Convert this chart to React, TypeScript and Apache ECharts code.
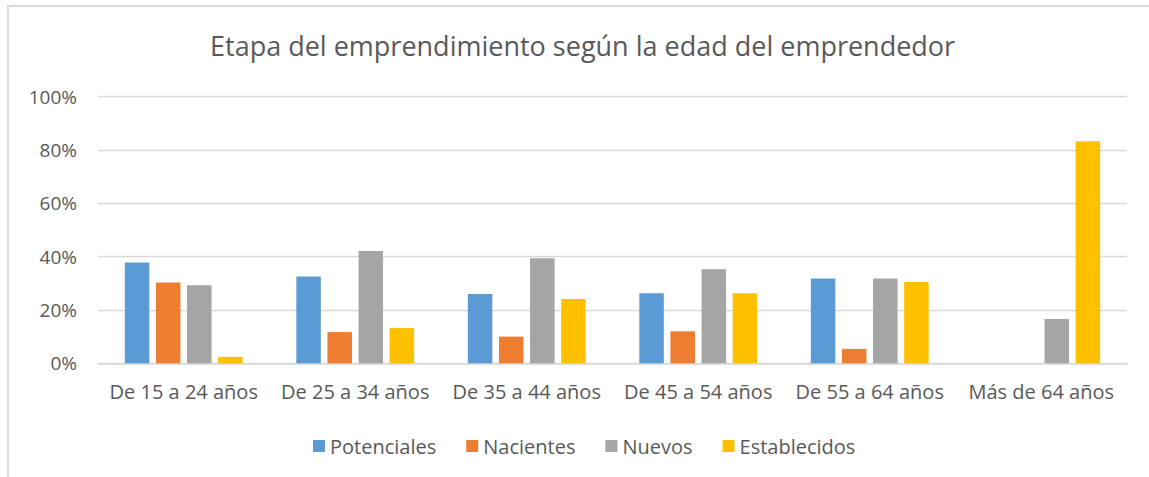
import React, { useEffect, useRef } from "react";
import * as echarts from "echarts";

const categories = [
  "De 15 a 24 años",
  "De 25 a 34 años",
  "De 35 a 44 años",
  "De 45 a 54 años",
  "De 55 a 64 años",
  "Más de 64 años",
];
const potenciales = [37.8, 32.6, 26.0, 26.3, 31.8, 0];
const nacientes = [30.3, 11.7, 10.0, 12.0, 5.4, 0];
const nuevos = [29.3, 42.1, 39.4, 35.3, 31.8, 16.6];
const establecidos = [2.4, 13.2, 24.1, 26.3, 30.5, 83.3];
const seriesNames = ["Potenciales", "Nacientes", "Nuevos", "Establecidos"];
const colors = ["#5b9bd5", "#ed7d31", "#a5a5a5", "#ffc000"];
const titleText = "Etapa del emprendimiento según la edad del emprendedor";

const FONT = "'Open Sans', sans-serif";
const TEXT = "#595959";

export default function App() {
  const ref = useRef<HTMLDivElement>(null);
  useEffect(() => {
    document.body.style.margin = "0";
    const chart = echarts.init(ref.current!, null, { renderer: "svg" });
    const values = [potenciales, nacientes, nuevos, establecidos];
    chart.setOption({
      animation: false,
      backgroundColor: "#ffffff",
      textStyle: { fontFamily: FONT },
      title: {
        text: titleText,
        left: 205,
        top: 27,
        textStyle: { fontFamily: FONT, fontSize: 27, fontWeight: "normal", color: TEXT },
      },
      graphic: [
        {
          type: "rect",
          shape: { x: 8, y: 6, width: 1200, height: 600 },
          style: { fill: "none", stroke: "#d9d9d9", lineWidth: 2 },
          silent: true,
        },
      ],
      legend: {
        data: seriesNames,
        left: 308,
        top: 431,
        itemWidth: 12,
        itemHeight: 12,
        itemGap: 30,
        icon: "rect",
        textStyle: { fontFamily: FONT, fontSize: 20, color: TEXT },
      },
      grid: { left: 98, right: 22, top: 96.7, bottom: 113.7, containLabel: false },
      xAxis: {
        type: "category",
        data: categories,
        axisTick: { show: false },
        axisLine: { lineStyle: { color: "#d9d9d9", width: 1.5 } },
        axisLabel: { fontFamily: FONT, fontSize: 20, color: TEXT, margin: 18, interval: 0 },
      },
      yAxis: {
        type: "value",
        min: 0,
        max: 100,
        interval: 20,
        axisLine: { show: false },
        axisTick: { show: false },
        splitLine: { lineStyle: { color: "#d9d9d9", width: 1.3 } },
        axisLabel: {
          fontFamily: FONT,
          fontSize: 19,
          color: TEXT,
          margin: 21,
          formatter: "{value}%",
        },
      },
      series: seriesNames.map((name, i) => ({
        name,
        type: "bar",
        data: values[i],
        barWidth: 24.5,
        barGap: "27%",
        itemStyle: { color: colors[i] },
      })),
    });
    return () => chart.dispose();
  }, []);
  return <div ref={ref} style={{ width: 1149, height: 477, position: "absolute", left: 0, top: 0 }} />;
}
